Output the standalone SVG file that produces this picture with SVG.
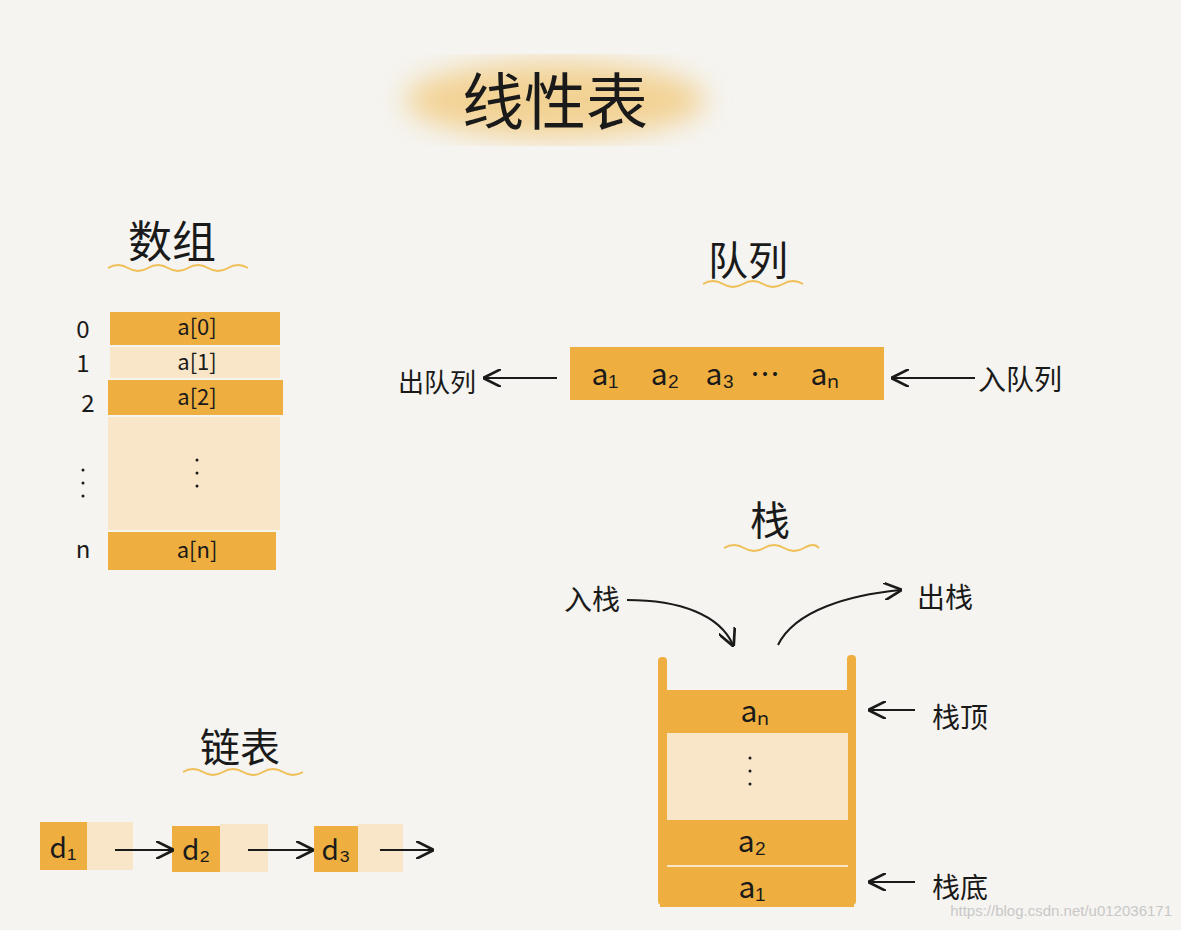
<svg xmlns="http://www.w3.org/2000/svg" width="1181" height="930" viewBox="0 0 1181 930">
<defs>
<style>
.t{font-family:"Noto Sans CJK SC","Liberation Sans",sans-serif;fill:#1a1a1a}
.o{fill:#eeaf40}
.l{fill:#f9e6c8}
.ln{stroke:#1a1a1a;stroke-width:2;fill:none}
.w{stroke:#f0bf58;stroke-width:2;fill:none}
</style>
<marker id="a" viewBox="0 0 10 10" refX="9" refY="5" markerWidth="9" markerHeight="9" orient="auto"><path d="M0,0L10,5L0,10" fill="none" stroke="#1a1a1a" stroke-width="1.5"/></marker>
<filter id="b"><feGaussianBlur stdDeviation="14"/></filter>
</defs>
<rect width="1181" height="930" fill="#f5f4f0"/>
<g id="title"><ellipse cx="555" cy="100" rx="150" ry="38" fill="#f2c46e" opacity="0.7" filter="url(#b)"/><text class="t" x="555" y="125" font-size="62" text-anchor="middle">线性表</text></g>
<g id="array">
<text class="t" x="172" y="258" font-size="44" text-anchor="middle">数组</text>
<path class="w" d="M108,268 q10,-6 20,0 t20,0 t20,0 t20,0 t20,0 t20,0 t20,0"/>
<rect class="o" x="110" y="312" width="170" height="33"/>
<rect class="l" x="110" y="347" width="170" height="31"/>
<rect class="o" x="108" y="380" width="175" height="35"/>
<rect class="l" x="108" y="417" width="172" height="113"/>
<rect class="o" x="108" y="532" width="168" height="38"/>
<g class="t" font-size="22" text-anchor="middle"><text x="197" y="335">a[0]</text><text x="197" y="370">a[1]</text><text x="197" y="405">a[2]</text><text x="197" y="558">a[n]</text></g>
<g class="t" font-size="24" text-anchor="middle"><text x="83" y="338">0</text><text x="83" y="372">1</text><text x="88" y="412">2</text><text x="83" y="558">n</text></g>
<g fill="#1a1a1a"><circle cx="197" cy="460" r="1.5"/><circle cx="197" cy="473" r="1.5"/><circle cx="197" cy="486" r="1.5"/><circle cx="83" cy="470" r="1.5"/><circle cx="83" cy="483" r="1.5"/><circle cx="83" cy="496" r="1.5"/></g>
</g>
<g id="queue">
<text class="t" x="748" y="275" font-size="40" text-anchor="middle">队列</text>
<path class="w" d="M703,284 q10,-6 20,0 t20,0 t20,0 t20,0 t20,0"/>
<rect class="o" x="570" y="347" width="314" height="53"/>
<g class="t" font-size="30" text-anchor="middle"><text x="605" y="385">a₁</text><text x="665" y="385">a₂</text><text x="720" y="385">a₃</text><text x="765" y="385">…</text><text x="825" y="385">aₙ</text></g>
<text class="t" x="437" y="392" font-size="26" text-anchor="middle">出队列</text>
<text class="t" x="1020" y="390" font-size="28" text-anchor="middle">入队列</text>
</g>
<g id="stack">
<text class="t" x="770" y="535" font-size="40" text-anchor="middle">栈</text>
<path class="w" d="M724,548 q10,-6 20,0 t20,0 t20,0 t20,0 t15,0"/>
<text class="t" x="592" y="610" font-size="28" text-anchor="middle">入栈</text>
<text class="t" x="945" y="608" font-size="28" text-anchor="middle">出栈</text>
<rect class="o" x="658" y="657" width="9" height="248" rx="4"/>
<rect class="o" x="847" y="655" width="9" height="250" rx="4"/>
<rect class="o" x="660" y="690" width="194" height="43"/>
<rect class="l" x="667" y="733" width="181" height="87"/>
<rect class="o" x="660" y="820" width="194" height="45"/>
<rect class="o" x="660" y="867" width="194" height="40"/>
<line x1="667" y1="866" x2="848" y2="866" stroke="#f9e6c8" stroke-width="2"/>
<g class="t" font-size="30" text-anchor="middle"><text x="755" y="722">aₙ</text><text x="752" y="852">a₂</text><text x="752" y="898">a₁</text></g>
<g fill="#1a1a1a"><circle cx="750" cy="758" r="1.5"/><circle cx="750" cy="771" r="1.5"/><circle cx="750" cy="784" r="1.5"/></g>
<text class="t" x="960" y="728" font-size="28" text-anchor="middle">栈顶</text>
<text class="t" x="960" y="898" font-size="28" text-anchor="middle">栈底</text>
</g>
<g id="list">
<text class="t" x="240" y="762" font-size="40" text-anchor="middle">链表</text>
<path class="w" d="M183,772 q10,-6 20,0 t20,0 t20,0 t20,0 t20,0 t20,0"/>
<rect class="o" x="40" y="822" width="47" height="48"/><rect class="l" x="87" y="822" width="46" height="48"/>
<rect class="o" x="172" y="826" width="48" height="46"/><rect class="l" x="220" y="824" width="48" height="48"/>
<rect class="o" x="314" y="826" width="44" height="46"/><rect class="l" x="358" y="824" width="45" height="48"/>
<g class="t" font-size="28" text-anchor="middle"><text x="63" y="858">d₁</text><text x="196" y="860">d₂</text><text x="336" y="860">d₃</text></g>
</g>
<g id="connectors">
<line class="ln" x1="557" y1="378" x2="485" y2="378" marker-end="url(#a)"/>
<line class="ln" x1="975" y1="378" x2="893" y2="378" marker-end="url(#a)"/>
<path class="ln" d="M627,600 C680,600 720,615 733,645" marker-end="url(#a)"/>
<path class="ln" d="M778,645 C795,610 850,595 900,590" marker-end="url(#a)"/>
<line class="ln" x1="915" y1="710" x2="870" y2="710" marker-end="url(#a)"/>
<line class="ln" x1="915" y1="882" x2="870" y2="882" marker-end="url(#a)"/>
<line class="ln" x1="115" y1="850" x2="172" y2="850" marker-end="url(#a)"/>
<line class="ln" x1="248" y1="850" x2="312" y2="850" marker-end="url(#a)"/>
<line class="ln" x1="380" y1="850" x2="432" y2="850" marker-end="url(#a)"/>
</g>
<text x="1172" y="916" font-family="Liberation Sans,sans-serif" font-size="15" fill="#c8c8c8" text-anchor="end">https://blog.csdn.net/u012036171</text>
</svg>
